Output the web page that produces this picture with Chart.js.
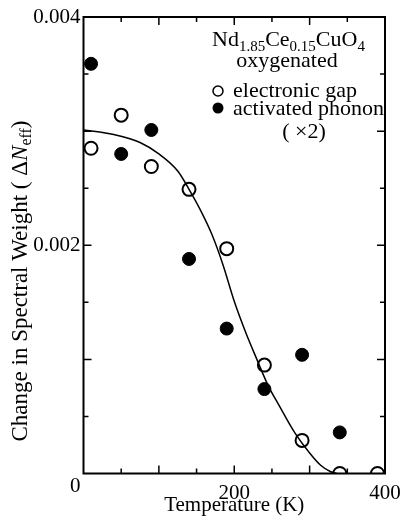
<!DOCTYPE html>
<html>
<head>
<meta charset="utf-8">
<script src="https://cdn.jsdelivr.net/npm/chart.js@4.4.0/dist/chart.umd.min.js"></script>
<style>
  html, body { margin: 0; padding: 0; background: #fff; }
  #wrap { width: 404px; height: 518px; }
</style>
</head>
<body>
<div id="wrap"><canvas id="chart" width="404" height="518"></canvas></div>
<script>
// Temperature (K) vs change in spectral weight
const gapTemps = [10, 50, 90, 140, 190, 240, 290, 340, 390]
const gapValues = [0.00285, 0.00314, 0.00269, 0.00249, 0.00197, 0.00095, 0.00029, 0, 0]
const phononTemps = [10, 50, 90, 140, 190, 240, 290, 340]
const phononValues = [0.00359, 0.0028, 0.00301, 0.00188, 0.00127, 0.00074, 0.00104, 0.00036]
const fitTemps = [0, 40, 75, 100, 125, 140, 155, 170, 185, 200, 215, 230, 245, 260, 280, 300, 315, 328, 336]
const fitValues = [0.00301, 0.00297, 0.0029, 0.0028, 0.00265, 0.00249, 0.00231, 0.0021, 0.00183, 0.00151, 0.00124, 0.001, 0.00077, 0.00059, 0.00036, 0.00018, 0.00007, 0.000015, 0]
const xTickLabels = [200, 400]
const yTickLabels = [0, 0.002, 0.004]

const FONT = 'Liberation Serif'

const toPoints = (xs, ys) => xs.map((x, i) => ({ x, y: ys[i] }))

// frame, inward ticks, rotated y title and the text legend
const framePlugin = {
  id: 'frame',
  afterDraw(chart) {
    const { ctx, chartArea: a, scales } = chart
    const x = scales.x
    const y = scales.y
    ctx.save()
    ctx.strokeStyle = '#000'
    ctx.lineWidth = 2
    ctx.strokeRect(a.left, a.top, a.right - a.left, a.bottom - a.top)

    ctx.lineWidth = 1.5
    ctx.beginPath()
    for (let t = 50; t < 400; t += 50) {
      const px = x.getPixelForValue(t)
      const len = t % 100 === 0 ? 8 : 5
      ctx.moveTo(px, a.bottom); ctx.lineTo(px, a.bottom - len)
      ctx.moveTo(px, a.top); ctx.lineTo(px, a.top + len)
    }
    for (let k = 1; k < 8; k++) {
      const py = y.getPixelForValue(k * 0.0005)
      const len = k % 2 === 0 ? 8 : 5
      ctx.moveTo(a.left, py); ctx.lineTo(a.left + len, py)
      ctx.moveTo(a.right, py); ctx.lineTo(a.right - len, py)
    }
    ctx.stroke()

    ctx.fillStyle = '#000'
    ctx.textBaseline = 'alphabetic'
    ctx.textAlign = 'left'

    // y axis title
    const ybig = '23px "' + FONT + '"'
    const yital = 'italic 23px "' + FONT + '"'
    const ysmall = '16px "' + FONT + '"'
    const parts = [
      { t: 'Change in Spectral Weight ( \u0394', f: ybig, dy: 0 },
      { t: 'N', f: yital, dy: 0 },
      { t: 'eff', f: ysmall, dy: 4 },
      { t: ')', f: ybig, dy: 0 }
    ]
    let total = 0
    parts.forEach(p => { ctx.font = p.f; p.w = ctx.measureText(p.t).width; total += p.w })
    ctx.save()
    ctx.translate(27, 281)
    ctx.rotate(-Math.PI / 2)
    let cx = -total / 2
    parts.forEach(p => { ctx.font = p.f; ctx.fillText(p.t, cx, p.dy); cx += p.w })
    ctx.restore()

    // legend block
    const big = '22px "' + FONT + '"'
    const small = '15px "' + FONT + '"'
    const formula = [
      { t: 'Nd', f: big, dy: 0 },
      { t: '1.85', f: small, dy: 5 },
      { t: 'Ce', f: big, dy: 0 },
      { t: '0.15', f: small, dy: 5 },
      { t: 'CuO', f: big, dy: 0 },
      { t: '4', f: small, dy: 5 }
    ]
    let fx = 212
    formula.forEach(p => { ctx.font = p.f; ctx.fillText(p.t, fx, 46 + p.dy); fx += ctx.measureText(p.t).width })

    ctx.font = big
    ctx.textAlign = 'center'
    ctx.fillText('oxygenated', 287, 67)
    ctx.fillText('( \u00d72)', 304, 138)
    ctx.textAlign = 'left'
    ctx.fillText('electronic gap', 233, 97)
    ctx.fillText('activated phonon', 233, 115)

    ctx.lineWidth = 1.5
    ctx.beginPath()
    ctx.arc(218, 91, 5, 0, Math.PI * 2)
    ctx.stroke()
    ctx.beginPath()
    ctx.arc(218, 108, 5.5, 0, Math.PI * 2)
    ctx.fill()
    ctx.restore()
  }
}

const tickFont = { family: FONT, size: 21 }

new Chart(document.getElementById('chart').getContext('2d'), {
  type: 'scatter',
  data: {
    datasets: [{
      label: 'fit',
      type: 'line',
      data: toPoints(fitTemps, fitValues),
      borderColor: '#000',
      borderWidth: 1.5,
      pointRadius: 0,
      cubicInterpolationMode: 'monotone',
      fill: false
    }, {
      label: 'electronic gap',
      data: toPoints(gapTemps, gapValues),
      pointRadius: 6.5,
      pointBorderWidth: 2,
      pointBackgroundColor: '#fff',
      pointBorderColor: '#000'
    }, {
      label: 'activated phonon',
      data: toPoints(phononTemps, phononValues),
      pointRadius: 6.5,
      pointBorderWidth: 1,
      pointBackgroundColor: '#000',
      pointBorderColor: '#000'
    }]
  },
  options: {
    responsive: false,
    animation: false,
    layout: { padding: { top: 17, right: 19, left: 0, bottom: 0 } },
    plugins: {
      legend: { display: false },
      tooltip: { enabled: false }
    },
    scales: {
      x: {
        type: 'linear',
        min: 0,
        max: 400,
        afterFit: (s) => { s.height = 44.5; s.paddingLeft = 0; s.paddingRight = 0 },
        grid: { display: false, drawTicks: false },
        border: { display: false },
        ticks: {
          stepSize: 50,
          autoSkip: false,
          maxRotation: 0,
          padding: 7,
          color: '#000',
          font: tickFont,
          callback: (v) => xTickLabels.includes(v) ? String(v) : ''
        },
        title: {
          display: true,
          text: 'Temperature (K)',
          color: '#000',
          font: tickFont,
          padding: { top: 0, bottom: 0 }
        }
      },
      y: {
        min: 0,
        max: 0.004,
        afterFit: (s) => { s.width = 83.5; s.paddingTop = 0; s.paddingBottom = 0 },
        grid: { display: false, drawTicks: false },
        border: { display: false },
        ticks: {
          stepSize: 0.0005,
          autoSkip: false,
          padding: 3,
          color: '#000',
          font: tickFont,
          callback: (v) => {
            const hit = yTickLabels.find(l => Math.abs(l - v) < 1e-9)
            if (hit === undefined) return ''
            if (hit === 0) return ['', '0']
            return hit.toFixed(3)
          }
        }
      }
    }
  },
  plugins: [framePlugin]
})
</script>
</body>
</html>
